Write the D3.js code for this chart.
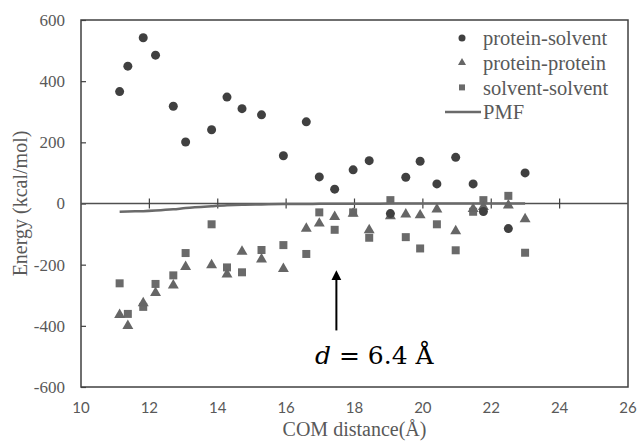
<!DOCTYPE html>
<html>
<head>
<meta charset="utf-8">
<script src="https://cdn.jsdelivr.net/npm/d3@7"></script>
<style>
  body { margin: 0; background: #fff; }
  svg { display: block; }
</style>
</head>
<body>
<svg id="drawing_region"></svg>
<script>
// COM distance of each window (Å)
const distances = [11.13, 11.37, 11.82, 12.18, 12.70, 13.06, 13.82, 14.27, 14.71, 15.28, 15.92, 16.59, 16.97,
                   17.42, 17.96, 18.43, 19.05, 19.50, 19.92, 20.41, 20.96, 21.47, 21.77, 22.50, 22.99];
const proteinSolvent = [366, 449, 542, 485, 318, 201, 241, 348, 310, 290, 156, 267, 87,
                        47, 110, 140, -33, 86, 138, 64, 151, 64, -26, -82, 100];
const proteinProtein = [-361, -397, -322, -289, -264, -204, -198, -228, -154, -179, -210, -79, -62,
                        -40, -30, -84, -38, -32, -35, -16, -87, -14, -8, -3, -48];
const solventSolvent = [-261, -361, -338, -263, -235, -162, -68, -209, -225, -152, -136, -165, -29,
                        -86, -29, -112, 11, -110, -147, -68, -153, -27, 11, 25, -161];
const pmf = [-27, -26, -25, -23, -19, -15, -9, -6, -4, -3, -2, -2, -1,
             -1, -1, -1, 0, 0, 0, 0, 0, 0, 0, 0, 0];

const xTicks = [10, 12, 14, 16, 18, 20, 22, 24, 26];
const yTicks = [-600, -400, -200, 0, 200, 400, 600];
const seriesNames = ['protein-solvent', 'protein-protein', 'solvent-solvent', 'PMF'];

// arrow marking the contact distance
const arrowX = 17.47;
const arrowFrom = -415;
const arrowTo = -215;
const arrowLabel = '6.4 Å';

const W = 637, H = 442;
const margin = {top: 20, right: 9, bottom: 55, left: 81};
const innerW = W - margin.left - margin.right;
const innerH = H - margin.top - margin.bottom;

const svg = d3.select('#drawing_region')
    .attr('width', W)
    .attr('height', H);

const chart = svg.append('g')
    .attr('transform', `translate(${margin.left}, ${margin.top})`);

const xscale = d3.scaleLinear().domain([10, 26]).range([0, innerW]);
const yscale = d3.scaleLinear().domain([-600, 600]).range([innerH, 0]);

const serif = '"Liberation Serif", "Times New Roman", serif';
const textColor = '#595959';

// frame
chart.append('rect')
    .attr('width', innerW)
    .attr('height', innerH)
    .attr('fill', 'none')
    .attr('stroke', '#404040')
    .attr('stroke-width', 1.5);

// y axis (ticks point inward)
const yaxis = d3.axisRight(yscale).tickValues(yTicks).tickSize(5).tickFormat('');
chart.append('g').call(yaxis)
    .call(g => g.select('.domain').remove())
    .selectAll('line').attr('stroke', '#404040').attr('stroke-width', 1.2);

chart.append('g').selectAll('text').data(yTicks).join('text')
    .attr('x', -16)
    .attr('y', d => yscale(d))
    .attr('dy', '0.35em')
    .attr('text-anchor', 'end')
    .attr('font-family', serif)
    .attr('font-size', 17)
    .attr('fill', textColor)
    .text(d => d);

// x axis line at zero with crossing ticks
chart.append('line')
    .attr('x1', 0).attr('x2', innerW)
    .attr('y1', yscale(0)).attr('y2', yscale(0))
    .attr('stroke', '#505050')
    .attr('stroke-width', 1.5);

chart.append('g').selectAll('line').data(xTicks.slice(1, -1)).join('line')
    .attr('x1', d => xscale(d)).attr('x2', d => xscale(d))
    .attr('y1', yscale(0) - 5).attr('y2', yscale(0) + 5)
    .attr('stroke', '#404040')
    .attr('stroke-width', 1.2);

chart.append('g').selectAll('text').data(xTicks).join('text')
    .attr('x', d => xscale(d))
    .attr('y', innerH + 21)
    .attr('dy', '0.35em')
    .attr('text-anchor', 'middle')
    .attr('font-family', 'Lato, "Open Sans", sans-serif')
    .attr('font-size', 15)
    .attr('fill', textColor)
    .text(d => d);

// axis titles
svg.append('text')
    .attr('x', margin.left + innerW / 2)
    .attr('y', 436)
    .attr('text-anchor', 'middle')
    .attr('font-family', serif)
    .attr('font-size', 20)
    .attr('fill', textColor)
    .text('COM distance(Å)');

svg.append('text')
    .attr('transform', `translate(27, ${margin.top + innerH / 2}) rotate(-90)`)
    .attr('text-anchor', 'middle')
    .attr('font-family', serif)
    .attr('font-size', 20)
    .attr('fill', textColor)
    .text('Energy (kcal/mol)');

// PMF line
const pts = distances.map((d, i) => ({x: d, ps: proteinSolvent[i], pp: proteinProtein[i], ss: solventSolvent[i], pmf: pmf[i]}));

chart.append('path')
    .datum(pts)
    .attr('fill', 'none')
    .attr('stroke', '#6a6a6a')
    .attr('stroke-width', 2.5)
    .attr('d', d3.line().x(d => xscale(d.x)).y(d => yscale(d.pmf)).curve(d3.curveMonotoneX));

// markers
const tri = d3.symbol().type(d3.symbolTriangle).size(52);
const sq = d3.symbol().type(d3.symbolSquare).size(64);

chart.append('g').selectAll('path').data(pts).join('path')
    .attr('transform', d => `translate(${xscale(d.x)}, ${yscale(d.ss)})`)
    .attr('d', sq)
    .attr('fill', '#6a6a6a');

chart.append('g').selectAll('path').data(pts).join('path')
    .attr('transform', d => `translate(${xscale(d.x)}, ${yscale(d.pp) + 1})`)
    .attr('d', tri)
    .attr('fill', '#666666');

chart.append('g').selectAll('circle').data(pts).join('circle')
    .attr('cx', d => xscale(d.x))
    .attr('cy', d => yscale(d.ps))
    .attr('r', 4.5)
    .attr('fill', '#404040');

// annotation arrow
svg.append('defs').append('marker')
    .attr('id', 'head')
    .attr('viewBox', '0 0 10 10')
    .attr('refX', 5).attr('refY', 5)
    .attr('markerWidth', 5).attr('markerHeight', 6)
    .attr('orient', 'auto')
    .append('path')
    .attr('d', 'M0,0 L10,5 L0,10 z')
    .attr('fill', '#000');

chart.append('line')
    .attr('x1', xscale(arrowX)).attr('x2', xscale(arrowX))
    .attr('y1', yscale(arrowFrom)).attr('y2', yscale(arrowTo) + 6)
    .attr('stroke', '#000')
    .attr('stroke-width', 2)
    .attr('marker-end', 'url(#head)');

const note = svg.append('text')
    .attr('x', 315)
    .attr('y', 364)
    .attr('font-family', '"DejaVu Serif", serif')
    .attr('font-size', 25)
    .attr('fill', '#000');
note.append('tspan').attr('font-style', 'italic').text('d');
note.append('tspan').text(' = ' + arrowLabel);

// legend
const legend = svg.append('g').attr('transform', 'translate(462, 38)');
const rowH = 24.7;
const rows = legend.selectAll('g').data(seriesNames).join('g')
    .attr('transform', (d, i) => `translate(0, ${i * rowH})`);

rows.append('text')
    .attr('x', 21)
    .attr('dy', '0.35em')
    .attr('font-family', serif)
    .attr('font-size', 20.5)
    .attr('fill', textColor)
    .text(d => d);

rows.filter((d, i) => i === 0).append('circle').attr('r', 3.5).attr('fill', '#404040');
rows.filter((d, i) => i === 1).append('path').attr('d', d3.symbol().type(d3.symbolTriangle).size(28)).attr('fill', '#666666');
rows.filter((d, i) => i === 2).append('path').attr('d', d3.symbol().type(d3.symbolSquare).size(36)).attr('fill', '#6a6a6a');
rows.filter((d, i) => i === 3).append('line')
    .attr('x1', -17).attr('x2', 19)
    .attr('stroke', '#6a6a6a').attr('stroke-width', 2.5);
</script>
</body>
</html>
